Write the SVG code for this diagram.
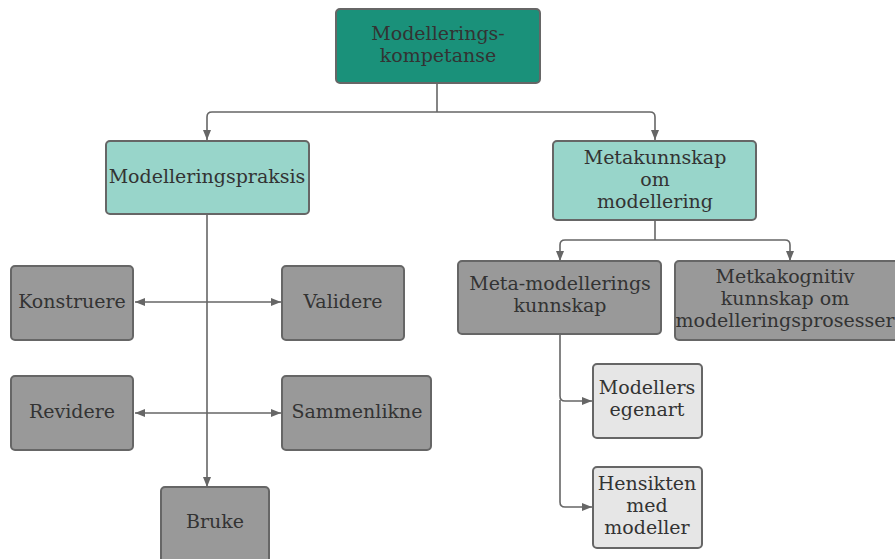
<svg xmlns="http://www.w3.org/2000/svg" width="895" height="559" viewBox="0 0 895 559">
<defs>
<marker id="ah" viewBox="0 0 10 10" refX="10" refY="5" markerWidth="10" markerHeight="10" markerUnits="userSpaceOnUse" orient="auto">
<path d="M0,1 L10,5 L0,9 z" fill="#666"/>
</marker>
<style>
.n rect{stroke:#666;stroke-width:2}
.top rect{fill:#1a917a}
.mid rect{fill:#98d5ca}
.g rect{fill:#999}
.l rect{fill:#e6e6e6}
.c path{fill:none;stroke:#666;stroke-width:1.6}
.t{font-family:"DejaVu Serif",serif;font-size:19px;fill:#333;text-anchor:middle}
</style>
</defs>
<rect width="895" height="559" fill="#fff"/>
<g class="c" id="connectors">
<path d="M437,83 V112"/>
<path d="M207,117 Q207,112 212,112 H650 Q655,112 655,117"/>
<path d="M655,117 V140" marker-end="url(#ah)"/>
<path d="M207,117 V140" marker-end="url(#ah)"/>
<path d="M207,214 V487" marker-end="url(#ah)"/>
<path d="M207,302 H135" marker-end="url(#ah)"/>
<path d="M207,302 H281" marker-end="url(#ah)"/>
<path d="M207,413 H135" marker-end="url(#ah)"/>
<path d="M207,413 H281" marker-end="url(#ah)"/>
<path d="M655,220 V240"/>
<path d="M560,245 Q560,240 565,240 H785 Q790,240 790,245"/>
<path d="M560,245 V261" marker-end="url(#ah)"/>
<path d="M790,245 V261" marker-end="url(#ah)"/>
<path d="M560,334 V396 Q560,401 565,401 H592" marker-end="url(#ah)"/>
<path d="M560,400 V502 Q560,507 565,507 H592" marker-end="url(#ah)"/>
</g>
<g class="t">
<g class="n top" id="n-kompetanse"><rect x="336" y="9" width="204" height="74" rx="4"/><text x="438" y="40">Modellerings-</text><text x="438" y="62">kompetanse</text></g>
<g class="n mid" id="n-praksis"><rect x="106" y="141" width="203" height="73" rx="4"/><text x="207" y="183">Modelleringspraksis</text></g>
<g class="n mid" id="n-metakunnskap"><rect x="553" y="141" width="203" height="79" rx="4"/><text x="655" y="164">Metakunnskap</text><text x="655" y="186">om</text><text x="655" y="208">modellering</text></g>
<g class="n g" id="n-konstruere"><rect x="11" y="266" width="122" height="74" rx="4"/><text x="72" y="308">Konstruere</text></g>
<g class="n g" id="n-validere"><rect x="282" y="266" width="122" height="74" rx="4"/><text x="343" y="308">Validere</text></g>
<g class="n g" id="n-revidere"><rect x="11" y="376" width="122" height="74" rx="4"/><text x="72" y="418">Revidere</text></g>
<g class="n g" id="n-sammenlikne"><rect x="282" y="376" width="149" height="74" rx="4"/><text x="357" y="418">Sammenlikne</text></g>
<g class="n g" id="n-bruke"><rect x="161" y="487" width="108" height="80" rx="4"/><text x="215" y="528">Bruke</text></g>
<g class="n g" id="n-metamod"><rect x="458" y="261" width="203" height="73" rx="4"/><text x="560" y="290">Meta-modellerings</text><text x="560" y="312">kunnskap</text></g>
<g class="n g" id="n-metkakognitiv"><rect x="675" y="261" width="230" height="79" rx="4"/><text x="785" y="283">Metkakognitiv</text><text x="785" y="305">kunnskap om</text><text x="785" y="327">modelleringsprosesser</text></g>
<g class="n l" id="n-egenart"><rect x="593" y="364" width="109" height="74" rx="4"/><text x="647" y="394">Modellers</text><text x="647" y="416">egenart</text></g>
<g class="n l" id="n-hensikten"><rect x="593" y="467" width="109" height="81" rx="4"/><text x="647" y="490">Hensikten</text><text x="647" y="512">med</text><text x="647" y="534">modeller</text></g>
</g>
</svg>
